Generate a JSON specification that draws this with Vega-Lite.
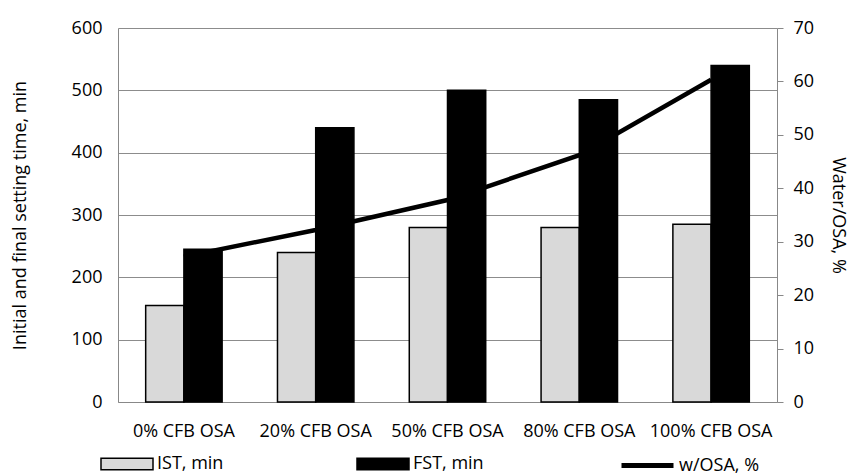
{
  "$schema": "https://vega.github.io/schema/vega-lite/v6.json",
  "autosize": "none",
  "width": 659,
  "height": 374,
  "padding": {"left": 118, "top": 28, "right": 77, "bottom": 74},
  "background": "white",
  "config": {
    "view": {"stroke": null},
    "font": "Open Sans",
    "axis": {"labelFont": "Open Sans", "titleFont": "Open Sans", "labelColor": "#000", "titleColor": "#000", "labelFontSize": 18, "titleFontSize": 18, "titleFontWeight": "normal", "domainColor": "#888", "tickColor": "#888", "gridColor": "#8c8c8c"},
    "legend": {"labelFont": "Open Sans", "labelFontSize": 18, "labelColor": "#000", "padding": 0}
  },
  "datasets": {
    "bars": [
      {"cat": "0% CFB OSA", "series": "IST, min", "value": 155},
      {"cat": "0% CFB OSA", "series": "FST, min", "value": 245},
      {"cat": "20% CFB OSA", "series": "IST, min", "value": 240},
      {"cat": "20% CFB OSA", "series": "FST, min", "value": 440},
      {"cat": "50% CFB OSA", "series": "IST, min", "value": 280},
      {"cat": "50% CFB OSA", "series": "FST, min", "value": 500},
      {"cat": "80% CFB OSA", "series": "IST, min", "value": 280},
      {"cat": "80% CFB OSA", "series": "FST, min", "value": 485},
      {"cat": "100% CFB OSA", "series": "IST, min", "value": 285},
      {"cat": "100% CFB OSA", "series": "FST, min", "value": 540}
    ],
    "line": [
      {"cat": "0% CFB OSA", "w": 27.2},
      {"cat": "20% CFB OSA", "w": 32.2},
      {"cat": "50% CFB OSA", "w": 37.8},
      {"cat": "80% CFB OSA", "w": 46.2},
      {"cat": "100% CFB OSA", "w": 60.3}
    ]
  },
  "encoding": {
    "x": {"field": "cat", "type": "nominal", "sort": null,
      "scale": {"domain": ["0% CFB OSA", "20% CFB OSA", "50% CFB OSA", "80% CFB OSA", "100% CFB OSA"], "paddingInner": 0.42, "paddingOuter": 0.21},
      "axis": {"title": null, "labelAngle": 0, "ticks": false, "domain": true, "labelPadding": 20, "labelBaseline": "top"}}
  },
  "layer": [
    {
      "data": {"name": "line"},
      "mark": {"type": "line", "strokeWidth": 4.5, "strokeCap": "butt"},
      "encoding": {
        "y": {"field": "w", "type": "quantitative", "scale": {"domain": [0, 70]},
          "axis": {"orient": "right", "title": "Water/OSA, %", "values": [0,10,20,30,40,50,60,70], "grid": false, "tickSize": 6, "labelPadding": 10, "titlePadding": 15, "domain": true}},
        "stroke": {"datum": "w/OSA, %", "type": "nominal", "scale": {"range": ["black"]},
          "legend": {"orient": "none", "legendX": 501, "legendY": 409, "title": null, "symbolType": "stroke", "symbolSize": 2704, "symbolStrokeWidth": 5, "labelOffset": 3}}
      }
    },
    {
      "data": {"name": "bars"},
      "mark": {"type": "bar", "stroke": "black", "strokeWidth": 1.5},
      "encoding": {
        "xOffset": {"field": "series", "type": "nominal", "sort": ["IST, min", "FST, min"], "scale": {"paddingInner": 0, "paddingOuter": 0}},
        "y": {"field": "value", "type": "quantitative", "scale": {"domain": [0, 600]},
          "axis": {"orient": "left", "title": "Initial and final setting time, min", "values": [0,100,200,300,400,500,600], "grid": true, "ticks": false, "labelPadding": 16, "titlePadding": 42, "domain": true}},
        "fill": {"field": "series", "type": "nominal", "sort": ["IST, min", "FST, min"],
          "scale": {"domain": ["IST, min", "FST, min"], "range": ["#d9d9d9", "#000000"]},
          "legend": {"orient": "none", "legendX": -18, "legendY": 409, "title": null, "direction": "horizontal", "columns": 2, "columnPadding": 130, "symbolType": "M-1,-0.22H1V0.22H-1Z", "symbolSize": 2704, "symbolStrokeColor": "black", "symbolStrokeWidth": 1.5, "labelOffset": 3, "symbolOpacity": 1}}
      }
    }
  ],
  "resolve": {"scale": {"y": "independent"}}
}
